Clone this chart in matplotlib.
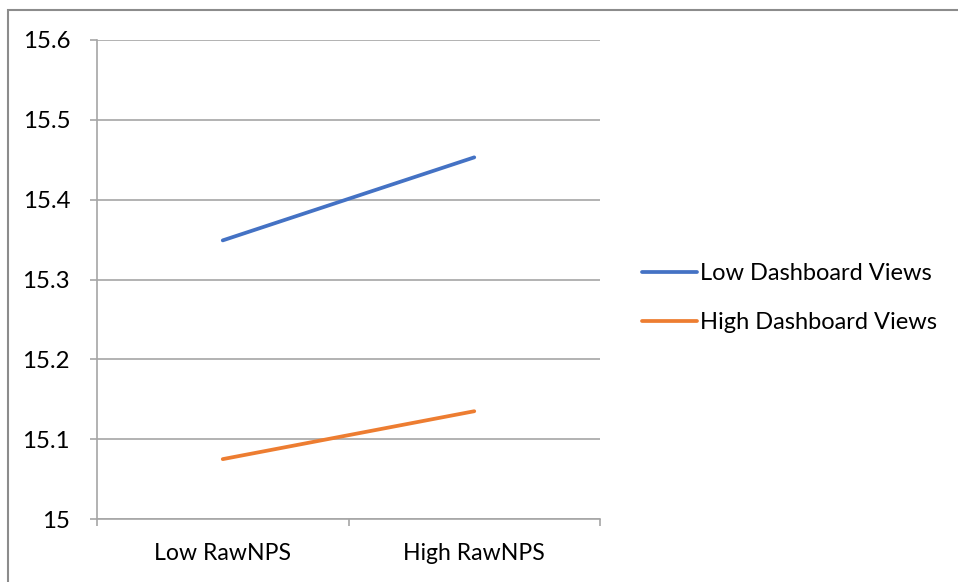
import matplotlib.pyplot as plt
from matplotlib.patches import Rectangle

categories = ['Low RawNPS', 'High RawNPS']
low_views = [15.349, 15.453]
high_views = [15.075, 15.135]
series_names = ['Low Dashboard Views', 'High Dashboard Views']
y_ticks = [15.0, 15.1, 15.2, 15.3, 15.4, 15.5, 15.6]
y_labels = ['15', '15.1', '15.2', '15.3', '15.4', '15.5', '15.6']

plt.rcParams['font.family'] = ['Lato', 'DejaVu Sans']
grey = '#a6a6a6'

fig = plt.figure(figsize=(9.58, 5.82), dpi=100)
ax = fig.add_axes([97 / 958, 63 / 582, 503 / 958, 479 / 582])

# outer chart border (runs off the right and bottom of the picture)
fig.patches.append(Rectangle((8 / 958, -0.2), 1.2, 1.2 - 10 / 582,
                             transform=fig.transFigure, fill=False,
                             edgecolor='#8c8c8c', linewidth=1.5))

x = list(range(len(categories)))
ax.plot(x, low_views, color='#4472c4', linewidth=2.7, solid_capstyle='round', label=series_names[0])
ax.plot(x, high_views, color='#ed7d31', linewidth=2.7, solid_capstyle='round', label=series_names[1])

ax.set_xlim(-0.5, 1.5)
ax.set_ylim(15.0, 15.6)
ax.set_yticks(y_ticks)
ax.set_yticklabels(y_labels)
ax.set_xticks(x)
ax.set_xticklabels(categories)
ax.set_xticks([-0.5, 0.5, 1.5], minor=True)
ax.yaxis.grid(True, color=grey, linewidth=1.2)
ax.set_axisbelow(True)

for side in ['top', 'right']:
    ax.spines[side].set_visible(False)
for side in ['left', 'bottom']:
    ax.spines[side].set_color(grey)
    ax.spines[side].set_linewidth(1.2)

ax.tick_params(axis='y', length=5, width=1.2, color=grey, labelsize=17.3, pad=14.4)
ax.tick_params(axis='x', which='major', length=0, labelsize=16.6, pad=17)
ax.tick_params(axis='x', which='minor', length=5, width=1.2, color=grey)

fig.legend(loc='center left', bbox_to_anchor=(621 / 958, 1 - 298 / 582),
           frameon=False, fontsize=17, handlelength=2.3, handletextpad=0.15,
           labelspacing=1.2)

fig.savefig('out.png', dpi=100)
